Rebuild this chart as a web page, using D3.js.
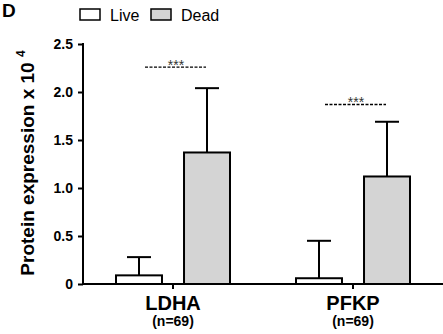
<!DOCTYPE html>
<html>
<head>
<meta charset="utf-8">
<script src="https://cdn.jsdelivr.net/npm/d3@7"></script>
<style>
  body { margin: 0; background: #fff; }
  svg { display: block; font-family: "Liberation Sans", Arial, sans-serif; }
</style>
</head>
<body>
<svg id="chart" width="443" height="334"></svg>
<script>
let categories = ["LDHA", "PFKP"];
let sampleSizes = ["(n=69)", "(n=69)"];
let series = ["Live", "Dead"];
let liveMeans = [0.09, 0.06];
let liveErrors = [0.19, 0.39];
let deadMeans = [1.37, 1.12];
let deadErrors = [0.67, 0.57];
let yTicks = [0, 0.5, 1.0, 1.5, 2.0, 2.5];
let sigLabels = ["***", "***"];
let sigHeights = [2.26, 1.87];

let colors = { Live: "#ffffff", Dead: "#d4d4d4" };

let svg = d3.select("#chart");

let y = d3.scaleLinear().domain([0, 2.5]).range([284, 44]);
let x = d3.scaleBand().domain(categories).range([83, 443]);
let xSub = d3.scaleBand().domain(series).range([-57, 57]).paddingInner(0.324);

// bars data
let bars = [];
categories.forEach((cat, i) => {
    bars.push({ cat: cat, s: "Live", mean: liveMeans[i], err: liveErrors[i] });
    bars.push({ cat: cat, s: "Dead", mean: deadMeans[i], err: deadErrors[i] });
});

let barX = (d) => x(d.cat) + x.bandwidth() / 2 + xSub(d.s);
let barMid = (d) => barX(d) + xSub.bandwidth() / 2;

// error bars (upper only)
svg.selectAll('.err')
    .data(bars)
    .enter()
    .append('line')
    .attr('x1', barMid)
    .attr('x2', barMid)
    .attr('y1', (d) => y(d.mean))
    .attr('y2', (d) => y(d.mean + d.err))
    .attr('stroke', '#000')
    .attr('stroke-width', 2);

svg.selectAll('.cap')
    .data(bars)
    .enter()
    .append('line')
    .attr('x1', (d) => barMid(d) - 12)
    .attr('x2', (d) => barMid(d) + 12)
    .attr('y1', (d) => y(d.mean + d.err))
    .attr('y2', (d) => y(d.mean + d.err))
    .attr('stroke', '#000')
    .attr('stroke-width', 2);

svg.selectAll('.bar')
    .data(bars)
    .enter()
    .append('rect')
    .attr('x', barX)
    .attr('y', (d) => y(d.mean))
    .attr('width', xSub.bandwidth())
    .attr('height', (d) => y(0) - y(d.mean))
    .attr('fill', (d) => colors[d.s])
    .attr('stroke', '#000')
    .attr('stroke-width', 2);

// y axis
let yAxis = d3.axisLeft(y)
    .tickValues(yTicks)
    .tickSize(5)
    .tickPadding(5)
    .tickFormat((d) => d === 0 ? "0" : d3.format(".1f")(d));

let yg = svg.append('g')
    .attr('transform', 'translate(83,0)')
    .call(yAxis);
yg.select('.domain').remove();
yg.selectAll('line').attr('stroke-width', 2);
yg.selectAll('text')
    .attr('font-size', 14)
    .attr('font-weight', 'bold')
    .attr('fill', '#000')
    .style('font-family', '"Liberation Sans", Arial, sans-serif');
yg.append('line')
    .attr('x1', 0).attr('x2', 0)
    .attr('y1', y(2.5) - 1).attr('y2', y(0) + 1)
    .attr('stroke', '#000').attr('stroke-width', 2);

// x axis
let xAxis = d3.axisBottom(x).tickSize(5).tickFormat('');
let xg = svg.append('g')
    .attr('transform', 'translate(0,284)')
    .call(xAxis);
xg.select('.domain').remove();
xg.selectAll('line').attr('stroke-width', 2);
xg.append('line')
    .attr('x1', 82).attr('x2', 443)
    .attr('y1', 0).attr('y2', 0)
    .attr('stroke', '#000').attr('stroke-width', 2);

categories.forEach((cat, i) => {
    let cx = x(cat) + x.bandwidth() / 2;
    svg.append('text')
        .attr('x', cx).attr('y', 310)
        .attr('text-anchor', 'middle')
        .attr('font-size', 20).attr('font-weight', 'bold')
        .text(cat);
    svg.append('text')
        .attr('x', cx).attr('y', 326)
        .attr('text-anchor', 'middle')
        .attr('font-size', 14).attr('font-weight', 'bold')
        .text(sampleSizes[i]);

    // significance
    let sy = y(sigHeights[i]);
    svg.append('line')
        .attr('x1', cx - 28).attr('x2', cx + 33)
        .attr('y1', sy).attr('y2', sy)
        .attr('stroke', '#000').attr('stroke-width', 1.3)
        .attr('stroke-dasharray', '3,1.5');
    svg.append('text')
        .attr('x', cx + 3).attr('y', sy + 3)
        .attr('text-anchor', 'middle')
        .attr('font-size', 14)
        .attr('fill', '#333')
        .text(sigLabels[i]);
});

// y label
svg.append('text')
    .attr('transform', 'translate(34,163) rotate(-90)')
    .attr('text-anchor', 'middle')
    .attr('font-size', 19).attr('font-weight', 'bold')
    .html('Protein expression x 10 <tspan dy="-9" font-size="12">4</tspan>');

// panel letter
svg.append('text')
    .attr('x', 2).attr('y', 17)
    .attr('font-size', 19).attr('font-weight', 'bold')
    .text('D');

// legend
series.forEach((s, i) => {
    let lx = 80 + i * 71;
    svg.append('rect')
        .attr('x', lx).attr('y', 9)
        .attr('width', 20).attr('height', 11)
        .attr('fill', colors[s])
        .attr('stroke', '#000').attr('stroke-width', 1.5);
    svg.append('text')
        .attr('x', lx + 30).attr('y', 21)
        .attr('font-size', 16)
        .text(s);
});
</script>
</body>
</html>
